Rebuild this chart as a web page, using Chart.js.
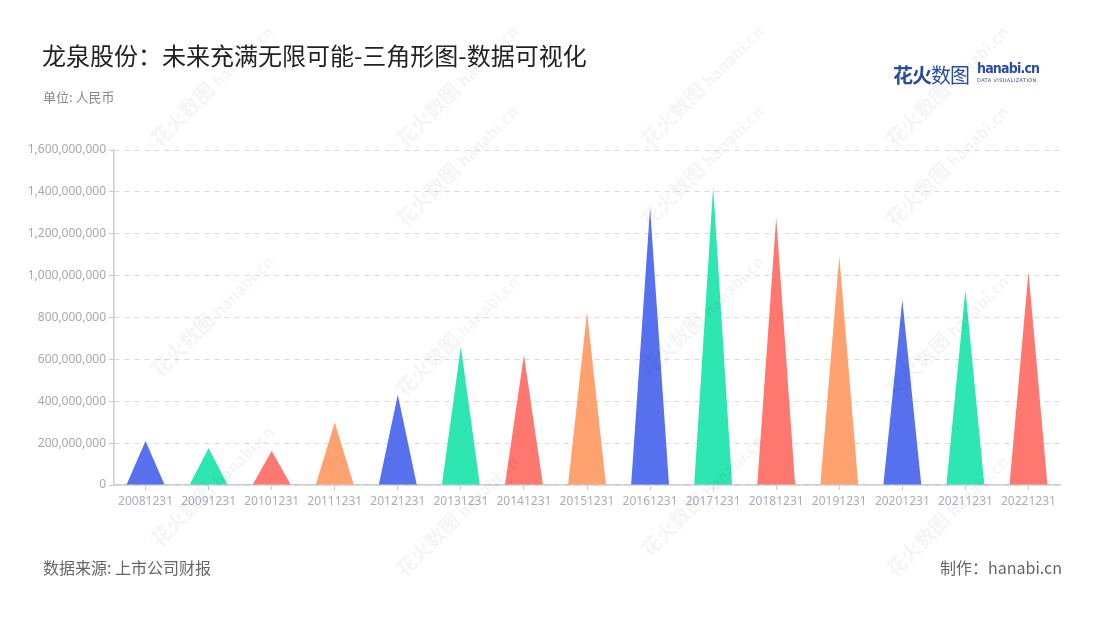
<!DOCTYPE html>
<html><head><meta charset="utf-8">
<script src="https://cdn.jsdelivr.net/npm/chart.js@4/dist/chart.umd.min.js"></script>
<style>
html,body{margin:0;padding:0;background:#fff;}
body{width:1100px;height:620px;position:relative;overflow:hidden;font-family:"Noto Sans CJK SC","Noto Sans",sans-serif;}
#c{position:absolute;left:0;top:0;}
.t{position:absolute;white-space:nowrap;}
.wm{position:absolute;white-space:nowrap;transform:rotate(-45deg);transform-origin:center;color:rgba(0,0,0,0.045);font-weight:bold;font-size:20px;pointer-events:none;}
.wm small{font-size:16px;font-weight:bold;}
</style></head>
<body>
<canvas id="c" width="1100" height="620"></canvas>
<div class="t" style="left:42px;top:37px;font-size:24px;color:#222;">龙泉股份：未来充满无限可能-三角形图-数据可视化</div>
<div class="t" style="left:43px;top:87px;font-size:13px;color:#888;">单位: 人民币</div>
<div class="t" style="left:43px;top:555px;font-size:16px;color:#666;">数据来源: 上市公司财报</div>
<div class="t" style="left:940px;top:555px;font-size:16px;color:#666;">制作：hanabi.cn</div>
<div class="t" style="left:893px;top:60px;font-size:20px;font-weight:bold;color:#2c4d9e;letter-spacing:-1px;">花火<span style="font-weight:normal;">数图</span></div>
<div class="t" style="left:977px;top:60px;font-size:14px;font-weight:bold;color:#2c4d9e;font-family:'DejaVu Sans Condensed','DejaVu Sans',sans-serif;letter-spacing:-0.8px;">hanabi.cn</div>
<div class="t" style="left:977px;top:77px;font-size:5px;color:#2c4d9e;font-family:'DejaVu Sans',sans-serif;letter-spacing:0.4px;">DATA VISUALIZATION</div>
<script>
const categories = ['20081231','20091231','20101231','20111231','20121231','20131231','20141231','20151231','20161231','20171231','20181231','20191231','20201231','20211231','20221231'];
const values = [210000000,175000000,162000000,299000000,431000000,660000000,621000000,826000000,1324000000,1425000000,1278000000,1094000000,883000000,931000000,1019000000];
const palette = ['#5771EE','#2EE6B1','#FF7870','#FFA26F'];
const yTicks = [0,200000000,400000000,600000000,800000000,1000000000,1200000000,1400000000,1600000000];

// watermarks
const wmPos = [[130,70],[375,70],[620,70],[865,70],[375,150],[620,150],[865,150],[130,300],[375,320],[620,300],[865,320],[130,470],[375,500],[620,480],[865,500]];
wmPos.forEach(p=>{
  const d=document.createElement('div');d.className='wm';
  d.style.left=p[0]+'px';d.style.top=p[1]+'px';
  d.innerHTML='花火数图 <small>hanabi.cn</small>';
  document.body.appendChild(d);
});

const triPlugin = {
  id:'tri',
  afterDatasetsDraw(chart){
    const ctx=chart.ctx;
    chart.getDatasetMeta(0).data.forEach((bar,i)=>{
      const p=bar.getProps(['x','y','base','width'],true);
      ctx.save();
      ctx.fillStyle=palette[i%palette.length];
      ctx.beginPath();
      ctx.moveTo(p.x-p.width/2,p.base);
      ctx.lineTo(p.x,p.y);
      ctx.lineTo(p.x+p.width/2,p.base);
      ctx.closePath();
      ctx.fill();
      ctx.restore();
    });
  }
};

new Chart(document.getElementById('c'),{
  type:'bar',
  data:{labels:categories,datasets:[{data:values,backgroundColor:'rgba(0,0,0,0)',borderWidth:0,barPercentage:0.6,categoryPercentage:1}]},
  options:{
    responsive:false,animation:false,
    layout:{padding:{left:0,top:150,right:40,bottom:0}},
    plugins:{legend:{display:false},tooltip:{enabled:false}},
    scales:{
      x:{
        grid:{drawOnChartArea:false,drawTicks:true,tickLength:5,tickColor:'#cccccc',offset:false},
        border:{color:'#cccccc',width:1.5},
        ticks:{color:'#a9adb8',font:{size:12,family:'"Noto Sans","Noto Sans CJK SC",sans-serif'},padding:4,maxRotation:0,autoSkip:false},
        afterFit(s){s.height=135;}
      },
      y:{
        min:0,max:1600000000,
        afterBuildTicks(s){s.ticks=yTicks.map(v=>({value:v}));},
        grid:{color:'#dadada',tickLength:5,tickColor:'#cccccc',tickBorderDash:[0,0]},
        border:{color:'#cccccc',width:1.5,dash:[5,5]},
        ticks:{color:'#a9a9a9',font:{size:12,family:'"Noto Sans","Noto Sans CJK SC",sans-serif'},padding:3,callback:v=>Number(v).toLocaleString('en-US')},
        afterFit(s){s.width=114;}
      }
    }
  },
  plugins:[triPlugin]
});
</script>
</body></html>
